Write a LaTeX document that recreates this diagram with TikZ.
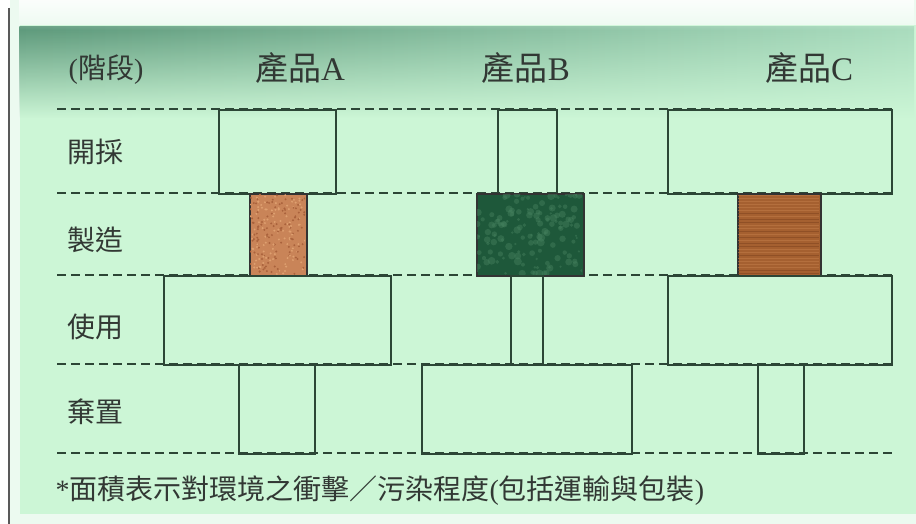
\documentclass[tikz,border=0pt]{standalone}
\usepackage{fontspec}
\setmainfont{Liberation Serif}
\newfontfamily\cjk{Noto Sans CJK TC}
\usetikzlibrary{fadings}
\definecolor{mint}{RGB}{204,246,214}
\definecolor{mintpale}{RGB}{236,250,240}
\definecolor{teal}{RGB}{92,152,122}
\definecolor{tealR}{RGB}{170,220,190}
\definecolor{ink}{RGB}{44,70,54}
\definecolor{txt}{RGB}{50,56,52}
\definecolor{sand}{RGB}{201,132,88}
\definecolor{sandD}{RGB}{170,98,60}
\definecolor{sandL}{RGB}{222,160,112}
\definecolor{jade}{RGB}{30,88,58}
\definecolor{jadeL}{RGB}{70,130,95}
\definecolor{wood}{RGB}{165,96,48}
\definecolor{woodD}{RGB}{130,70,32}
\definecolor{woodL}{RGB}{190,122,70}
\tikzfading[name=fadedown, top color=transparent!0, bottom color=transparent!100]
\tikzset{
  box/.style={draw=ink, line width=1.6pt, inner sep=0pt, anchor=north west},
  grid/.style={draw=ink, line width=1.5pt, dash pattern=on 9pt off 5pt},
  hdr/.style={text=txt, font=\fontsize{33}{34}\selectfont, anchor=center},
  stage/.style={text=txt, font=\fontsize{28}{29}\selectfont, anchor=center},
  note/.style={text=txt, font=\fontsize{28}{29}\selectfont, anchor=west}
}
\begin{document}
\begin{tikzpicture}[x=1pt,y=-1pt]
\useasboundingbox (0,0) rectangle (916,524);
% backgrounds
\fill[white] (0,0) rectangle (916,524);
\fill[mintpale] (10,0) rectangle (916,524);
\fill[mint] (20,25) rectangle (916,514);
\shade[left color=teal, right color=tealR, path fading=fadedown] (20,27) rectangle (916,118);
\fill[white, path fading=fadedown, opacity=0.8] (20,0) rectangle (916,30);
\draw[gray!70!black, line width=1.8pt] (9,8) -- (9,524);

% headers
\node[hdr, font=\fontsize{28}{29}\selectfont] (stg) at (106,70) {({\cjk 階段})};
\node[hdr] (pa) at (300,68) {{\cjk 產品}A};
\node[hdr] (pb) at (526,68) {{\cjk 產品}B};
\node[hdr] (pc) at (809,68) {{\cjk 產品}C};

% stage labels
\node[stage] (s1) at (95,152) {\cjk 開採};
\node[stage] (s2) at (95,240) {\cjk 製造};
\node[stage] (s3) at (95,327) {\cjk 使用};
\node[stage] (s4) at (95,412) {\cjk 棄置};

% dashed lines
\coordinate (l1a) at (57,109); \coordinate (l1b) at (893,109);
\coordinate (l2a) at (57,193); \coordinate (l2b) at (893,193);
\coordinate (l3a) at (57,275); \coordinate (l3b) at (893,275);
\coordinate (l4a) at (57,364); \coordinate (l4b) at (893,364);
\coordinate (l5a) at (57,453); \coordinate (l5b) at (893,453);
\draw[grid] (l1a) -- (l1b);
\draw[grid] (l2a) -- (l2b);
\draw[grid] (l3a) -- (l3b);
\draw[grid] (l4a) -- (l4b);
\draw[grid] (l5a) -- (l5b);

% Product A
\node[box, minimum width=117pt, minimum height=84pt] (a1) at (218,109) {};
\node[box, fill=sand, draw=black!80, minimum width=57pt, minimum height=82pt] (a2) at (249,193) {};
\node[box, minimum width=227pt, minimum height=89pt] (a3) at (163,275) {};
\node[box, minimum width=76pt, minimum height=89pt] (a4) at (238,364) {};

% Product B
\node[box, minimum width=59pt, minimum height=84pt] (b1) at (497,109) {};
\node[box, fill=jade, draw=black!80, minimum width=107pt, minimum height=82pt] (b2) at (476,193) {};
\node[box, minimum width=32pt, minimum height=89pt] (b3) at (510,275) {};
\node[box, minimum width=210pt, minimum height=89pt] (b4) at (421,364) {};

% Product C
\node[box, minimum width=224pt, minimum height=84pt] (c1) at (667,109) {};
\node[box, fill=wood, draw=black!80, minimum width=83pt, minimum height=82pt] (c2) at (737,193) {};
\node[box, minimum width=224pt, minimum height=89pt] (c3) at (667,275) {};
\node[box, minimum width=46pt, minimum height=89pt] (c4) at (757,364) {};

% textures
\pgfmathsetseed{7}
\begin{scope}
\clip (250,194) rectangle (305,274);
\foreach \i in {1,...,220}{
  \pgfmathsetmacro{\xx}{250+55*rnd}
  \pgfmathsetmacro{\yy}{194+80*rnd}
  \pgfmathsetmacro{\cc}{rnd}
  \ifdim\cc pt<0.5pt \fill[sandD] (\xx,\yy) circle (1.1pt); \else \fill[sandL] (\xx,\yy) circle (1.1pt); \fi
}
\end{scope}
\begin{scope}
\clip (477,194) rectangle (582,274);
\foreach \i in {1,...,140}{
  \pgfmathsetmacro{\xx}{477+105*rnd}
  \pgfmathsetmacro{\yy}{194+80*rnd}
  \pgfmathsetmacro{\rr}{1+3*rnd}
  \fill[jadeL, opacity=0.45] (\xx,\yy) circle (\rr pt);
}
\end{scope}
\begin{scope}
\clip (738,194) rectangle (819,274);
\foreach \i in {0,...,26}{
  \pgfmathsetmacro{\yy}{195+3*\i}
  \pgfmathsetmacro{\cc}{rnd}
  \ifdim\cc pt<0.5pt \draw[woodD, line width=0.8pt, opacity=0.6] (738,\yy) -- (819,\yy); \else \draw[woodL, line width=0.8pt, opacity=0.6] (738,\yy) -- (819,\yy); \fi
}
\end{scope}

% footnote
\node[note] (fn) at (52,491) {*{\cjk 面積表示對環境之衝擊／污染程度}({\cjk 包括運輸與包裝})};
\end{tikzpicture}
\end{document}
